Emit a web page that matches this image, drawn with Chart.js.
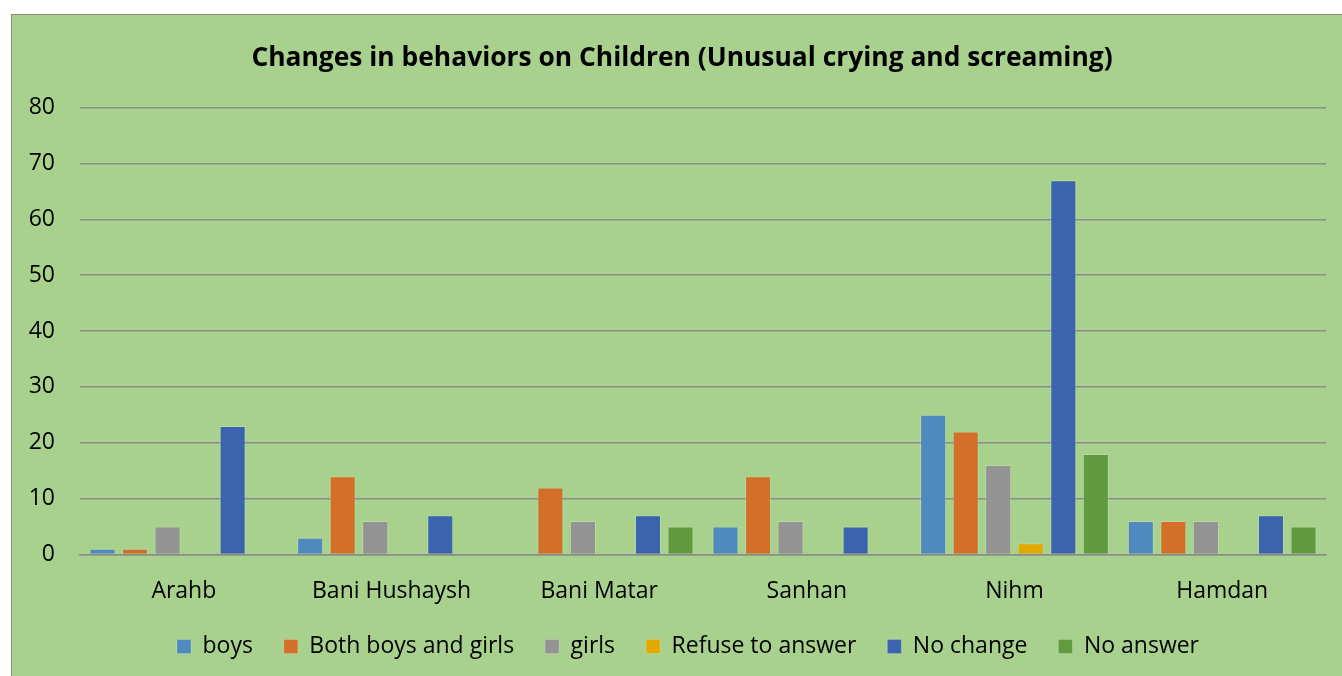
<!DOCTYPE html>
<html><head><meta charset="utf-8">
<script src="https://cdn.jsdelivr.net/npm/chart.js@4"></script>
<style>
html,body{margin:0;padding:0;background:#fff;overflow:hidden;width:1342px;height:676px;}
#box{position:absolute;left:11px;top:14px;width:1350px;height:661px;background:#a9d18e;border-left:1px solid #8a8a8a;border-top:1px solid #8a8a8a;}
canvas{display:block;}
</style></head>
<body>
<div id="box"><canvas id="c" width="1350" height="661"></canvas></div>
<script>
const categories = ["Arahb","Bani Hushaysh","Bani Matar","Sanhan","Nihm","Hamdan"];
const boys        = [1, 3, 0, 5, 25, 6];
const bothBoysGirls = [1, 14, 12, 14, 22, 6];
const girls       = [5, 6, 6, 6, 16, 6];
const refuse      = [0, 0, 0, 0, 2, 0];
const noChange    = [23, 7, 7, 5, 67, 7];
const noAnswer    = [0, 0, 5, 0, 18, 5];
const yTicks = [0,10,20,30,40,50,60,70,80];

const FONT = "'Open Sans', sans-serif";
const mk = (label, data, color) => ({label, data, backgroundColor: color, borderColor: 'rgba(255,255,255,0.18)', borderWidth: 1, barPercentage: 0.8, categoryPercentage: 0.94});

const boxShift = {
  id: 'boxShift',
  beforeDraw(chart) {
    const lg = chart.legend, t = chart.titleBlock;
    if (lg && !lg._shifted) { lg.top -= 24; lg.bottom -= 24; lg.left += 19; lg.right += 19; lg._shifted = true; }
    if (t && !t._shifted) { t.left += 13; t.right += 13; t._shifted = true; }
  }
};

new Chart(document.getElementById('c'), {
  type: 'bar',
  data: {
    labels: categories,
    datasets: [
      mk('boys', boys, '#4f8abe'),
      mk('Both boys and girls', bothBoysGirls, '#d46f2a'),
      mk('girls', girls, '#939393'),
      mk('Refuse to answer', refuse, '#e2aa00'),
      mk('No change', noChange, '#3c64ae'),
      mk('No answer', noAnswer, '#629a3f')
    ]
  },
  plugins: [boxShift],
  options: {
    responsive: false,
    animation: false,
    layout: {padding: {left: 0, right: 36, top: 10, bottom: -16}},
    plugins: {
      title: {display: true, text: 'Changes in behaviors on Children (Unusual crying and screaming)', color: '#000', font: {family: FONT, size: 26.4, weight: 'bold'}, padding: {top: 18, bottom: 33}},
      legend: {position: 'bottom', labels: {color: '#000', font: {family: FONT, size: 23}, boxWidth: 14, boxHeight: 14, padding: 31}},
      tooltip: {enabled: false}
    },
    scales: {
      x: {
        grid: {display: false, drawTicks: false},
        border: {display: true, color: '#8c8c8c', width: 1.5},
        ticks: {color: '#000', font: {family: FONT, size: 23}, padding: 23}
      },
      y: {
        min: 0, max: 80,
        afterBuildTicks: s => { s.ticks = yTicks.map(v => ({value: v})); },
        afterFit: s => { s.width = 68; },
        grid: {color: '#8c8c8c', lineWidth: 1.5, drawTicks: false},
        border: {display: false},
        ticks: {color: '#000', font: {family: FONT, size: 23}, padding: 25}
      }
    }
  }
});
</script>
</body></html>
